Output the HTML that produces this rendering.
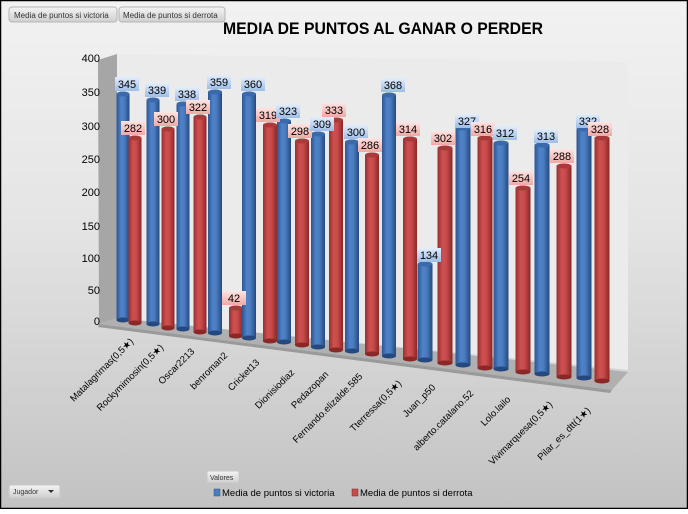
<!DOCTYPE html>
<html><head><meta charset="utf-8"><style>
html,body{margin:0;padding:0;}
body{width:688px;height:509px;overflow:hidden;}
svg text{font-family:"Liberation Sans",sans-serif;}
</style></head><body>
<svg width="688" height="509" viewBox="0 0 688 509" xmlns="http://www.w3.org/2000/svg">
<defs>
<linearGradient id="bg" x1="0" y1="0" x2="0" y2="1"><stop offset="0" stop-color="#f2f2f2"/><stop offset="0.45" stop-color="#e4e4e4"/><stop offset="1" stop-color="#c2c2c2"/></linearGradient>
<linearGradient id="gb" x1="0" y1="0" x2="1" y2="0"><stop offset="0" stop-color="#2c5590"/><stop offset="0.35" stop-color="#4f82c8"/><stop offset="0.6" stop-color="#4a7cc0"/><stop offset="1" stop-color="#25497e"/></linearGradient>
<linearGradient id="gr" x1="0" y1="0" x2="1" y2="0"><stop offset="0" stop-color="#983030"/><stop offset="0.35" stop-color="#d05050"/><stop offset="0.6" stop-color="#c84a4a"/><stop offset="1" stop-color="#8a2828"/></linearGradient>
<linearGradient id="lb" x1="0" y1="0" x2="0" y2="1"><stop offset="0" stop-color="#e4eefb"/><stop offset="1" stop-color="#9dbde8"/></linearGradient>
<linearGradient id="lr" x1="0" y1="0" x2="0" y2="1"><stop offset="0" stop-color="#fde4e2"/><stop offset="1" stop-color="#f0a9a5"/></linearGradient>
<linearGradient id="btn" x1="0" y1="0" x2="0" y2="1"><stop offset="0" stop-color="#f4f4f4"/><stop offset="1" stop-color="#cfcfcf"/></linearGradient>
</defs>
<rect x="0.5" y="0.5" width="687" height="508" fill="url(#bg)" stroke="#000" stroke-width="1.5"/>
<polygon points="117,54 628,62 628,370 117,318" fill="#ebebeb"/>
<polygon points="98,60 117,54 117,318 99,324" fill="#a6a6a6"/>
<polygon points="99,324 117,318 628,372 612,390" fill="#b0b0b0"/>
<polygon points="99,324 612,390 610,393 98,327" fill="#9a9a9a"/>
<rect x="9" y="7" width="108" height="15" rx="3" fill="url(#btn)" stroke="#b5b5b5"/>
<text x="14" y="18" font-size="8" fill="#333">Media de puntos si victoria</text>
<rect x="119" y="7" width="106" height="15" rx="3" fill="url(#btn)" stroke="#b5b5b5"/>
<text x="123" y="18" font-size="8" fill="#333">Media de puntos si derrota</text>
<text x="383" y="34" font-size="17" font-weight="bold" text-anchor="middle" textLength="320" lengthAdjust="spacingAndGlyphs" fill="#000">MEDIA DE PUNTOS AL GANAR O PERDER</text>
<g font-size="11" text-anchor="end" fill="#000">
<text x="100" y="62">400</text><text x="100" y="96">350</text><text x="100" y="130">300</text><text x="100" y="163">250</text><text x="100" y="196">200</text><text x="100" y="230">150</text><text x="100" y="262">100</text><text x="100" y="294">50</text><text x="100" y="325">0</text>
</g>
<g>
<rect x="116.5" y="94" width="13" height="226" fill="url(#gb)"/><ellipse cx="123" cy="320" rx="6.5" ry="2.5" fill="#25497e"/><ellipse cx="123" cy="94" rx="6.5" ry="2.5" fill="#3a6aab"/>
<rect x="128.5" y="138" width="13" height="185" fill="url(#gr)"/><ellipse cx="135" cy="323" rx="6.5" ry="2.5" fill="#8a2828"/><ellipse cx="135" cy="138" rx="6.5" ry="2.5" fill="#a83a3a"/>
<rect x="146.5" y="100" width="13" height="224" fill="url(#gb)"/><ellipse cx="153" cy="324" rx="6.5" ry="2.5" fill="#25497e"/><ellipse cx="153" cy="100" rx="6.5" ry="2.5" fill="#3a6aab"/>
<rect x="161.5" y="129" width="13" height="199" fill="url(#gr)"/><ellipse cx="168" cy="328" rx="6.5" ry="2.5" fill="#8a2828"/><ellipse cx="168" cy="129" rx="6.5" ry="2.5" fill="#a83a3a"/>
<rect x="176.5" y="104" width="13" height="225" fill="url(#gb)"/><ellipse cx="183" cy="329" rx="6.5" ry="2.5" fill="#25497e"/><ellipse cx="183" cy="104" rx="6.5" ry="2.5" fill="#3a6aab"/>
<rect x="193.5" y="117" width="13" height="215" fill="url(#gr)"/><ellipse cx="200" cy="332" rx="6.5" ry="2.5" fill="#8a2828"/><ellipse cx="200" cy="117" rx="6.5" ry="2.5" fill="#a83a3a"/>
<rect x="208" y="92" width="14" height="241" fill="url(#gb)"/><ellipse cx="215" cy="333" rx="7" ry="2.5" fill="#25497e"/><ellipse cx="215" cy="92" rx="7" ry="2.5" fill="#3a6aab"/>
<rect x="229" y="308" width="14" height="28" fill="url(#gr)"/><ellipse cx="236" cy="336" rx="7" ry="2.5" fill="#8a2828"/><ellipse cx="236" cy="308" rx="7" ry="2.5" fill="#a83a3a"/>
<rect x="242" y="94" width="14" height="244" fill="url(#gb)"/><ellipse cx="249" cy="338" rx="7" ry="2.5" fill="#25497e"/><ellipse cx="249" cy="94" rx="7" ry="2.5" fill="#3a6aab"/>
<rect x="263" y="125" width="14" height="216" fill="url(#gr)"/><ellipse cx="270" cy="341" rx="7" ry="2.5" fill="#8a2828"/><ellipse cx="270" cy="125" rx="7" ry="2.5" fill="#a83a3a"/>
<rect x="277" y="121" width="14" height="221" fill="url(#gb)"/><ellipse cx="284" cy="342" rx="7" ry="2.5" fill="#25497e"/><ellipse cx="284" cy="121" rx="7" ry="2.5" fill="#3a6aab"/>
<rect x="295" y="141" width="14" height="204" fill="url(#gr)"/><ellipse cx="302" cy="345" rx="7" ry="2.5" fill="#8a2828"/><ellipse cx="302" cy="141" rx="7" ry="2.5" fill="#a83a3a"/>
<rect x="311" y="134" width="14" height="213" fill="url(#gb)"/><ellipse cx="318" cy="347" rx="7" ry="2.5" fill="#25497e"/><ellipse cx="318" cy="134" rx="7" ry="2.5" fill="#3a6aab"/>
<rect x="329" y="120" width="14" height="230" fill="url(#gr)"/><ellipse cx="336" cy="350" rx="7" ry="2.5" fill="#8a2828"/><ellipse cx="336" cy="120" rx="7" ry="2.5" fill="#a83a3a"/>
<rect x="345" y="142" width="14" height="209" fill="url(#gb)"/><ellipse cx="352" cy="351" rx="7" ry="2.5" fill="#25497e"/><ellipse cx="352" cy="142" rx="7" ry="2.5" fill="#3a6aab"/>
<rect x="365" y="155" width="14" height="199" fill="url(#gr)"/><ellipse cx="372" cy="354" rx="7" ry="2.5" fill="#8a2828"/><ellipse cx="372" cy="155" rx="7" ry="2.5" fill="#a83a3a"/>
<rect x="382" y="95" width="14" height="261" fill="url(#gb)"/><ellipse cx="389" cy="356" rx="7" ry="2.5" fill="#25497e"/><ellipse cx="389" cy="95" rx="7" ry="2.5" fill="#3a6aab"/>
<rect x="403" y="139" width="14" height="220" fill="url(#gr)"/><ellipse cx="410" cy="359" rx="7" ry="2.5" fill="#8a2828"/><ellipse cx="410" cy="139" rx="7" ry="2.5" fill="#a83a3a"/>
<rect x="417.5" y="264" width="15" height="96" fill="url(#gb)"/><ellipse cx="425" cy="360" rx="7.5" ry="2.5" fill="#25497e"/><ellipse cx="425" cy="264" rx="7.5" ry="2.5" fill="#3a6aab"/>
<rect x="437.5" y="148" width="15" height="215" fill="url(#gr)"/><ellipse cx="445" cy="363" rx="7.5" ry="2.5" fill="#8a2828"/><ellipse cx="445" cy="148" rx="7.5" ry="2.5" fill="#a83a3a"/>
<rect x="455.5" y="128" width="15" height="237" fill="url(#gb)"/><ellipse cx="463" cy="365" rx="7.5" ry="2.5" fill="#25497e"/><ellipse cx="463" cy="128" rx="7.5" ry="2.5" fill="#3a6aab"/>
<rect x="477.5" y="138" width="15" height="230" fill="url(#gr)"/><ellipse cx="485" cy="368" rx="7.5" ry="2.5" fill="#8a2828"/><ellipse cx="485" cy="138" rx="7.5" ry="2.5" fill="#a83a3a"/>
<rect x="493.5" y="143" width="15" height="226" fill="url(#gb)"/><ellipse cx="501" cy="369" rx="7.5" ry="2.5" fill="#25497e"/><ellipse cx="501" cy="143" rx="7.5" ry="2.5" fill="#3a6aab"/>
<rect x="515.5" y="188" width="15" height="184" fill="url(#gr)"/><ellipse cx="523" cy="372" rx="7.5" ry="2.5" fill="#8a2828"/><ellipse cx="523" cy="188" rx="7.5" ry="2.5" fill="#a83a3a"/>
<rect x="534.5" y="145" width="15" height="229" fill="url(#gb)"/><ellipse cx="542" cy="374" rx="7.5" ry="2.5" fill="#25497e"/><ellipse cx="542" cy="145" rx="7.5" ry="2.5" fill="#3a6aab"/>
<rect x="556.5" y="166" width="15" height="211" fill="url(#gr)"/><ellipse cx="564" cy="377" rx="7.5" ry="2.5" fill="#8a2828"/><ellipse cx="564" cy="166" rx="7.5" ry="2.5" fill="#a83a3a"/>
<rect x="576.5" y="129" width="15" height="249" fill="url(#gb)"/><ellipse cx="584" cy="378" rx="7.5" ry="2.5" fill="#25497e"/><ellipse cx="584" cy="129" rx="7.5" ry="2.5" fill="#3a6aab"/>
<rect x="594.5" y="138" width="15" height="243" fill="url(#gr)"/><ellipse cx="602" cy="381" rx="7.5" ry="2.5" fill="#8a2828"/><ellipse cx="602" cy="138" rx="7.5" ry="2.5" fill="#a83a3a"/>
</g>
<g font-size="11" text-anchor="middle" fill="#000">
<rect x="115" y="77" width="24" height="14" fill="url(#lb)"/><text x="127" y="88">345</text>
<rect x="121" y="121" width="24" height="14" fill="url(#lr)"/><text x="133" y="132">282</text>
<rect x="145" y="83" width="24" height="14" fill="url(#lb)"/><text x="157" y="94">339</text>
<rect x="154" y="112" width="24" height="14" fill="url(#lr)"/><text x="166" y="123">300</text>
<rect x="175" y="87" width="24" height="14" fill="url(#lb)"/><text x="187" y="98">338</text>
<rect x="186" y="100" width="24" height="14" fill="url(#lr)"/><text x="198" y="111">322</text>
<rect x="207" y="75" width="24" height="14" fill="url(#lb)"/><text x="219" y="86">359</text>
<rect x="222" y="291" width="24" height="14" fill="url(#lr)"/><text x="234" y="302">42</text>
<rect x="241" y="77" width="24" height="14" fill="url(#lb)"/><text x="253" y="88">360</text>
<rect x="256" y="108" width="24" height="14" fill="url(#lr)"/><text x="268" y="119">319</text>
<rect x="276" y="104" width="24" height="14" fill="url(#lb)"/><text x="288" y="115">323</text>
<rect x="288" y="124" width="24" height="14" fill="url(#lr)"/><text x="300" y="135">298</text>
<rect x="310" y="117" width="24" height="14" fill="url(#lb)"/><text x="322" y="128">309</text>
<rect x="322" y="103" width="24" height="14" fill="url(#lr)"/><text x="334" y="114">333</text>
<rect x="344" y="125" width="24" height="14" fill="url(#lb)"/><text x="356" y="136">300</text>
<rect x="358" y="138" width="24" height="14" fill="url(#lr)"/><text x="370" y="149">286</text>
<rect x="381" y="78" width="24" height="14" fill="url(#lb)"/><text x="393" y="89">368</text>
<rect x="396" y="122" width="24" height="14" fill="url(#lr)"/><text x="408" y="133">314</text>
<rect x="417" y="248" width="24" height="14" fill="url(#lb)"/><text x="429" y="259">134</text>
<rect x="431" y="131" width="24" height="14" fill="url(#lr)"/><text x="443" y="142">302</text>
<rect x="455" y="114" width="24" height="14" fill="url(#lb)"/><text x="467" y="125">327</text>
<rect x="471" y="122" width="24" height="14" fill="url(#lr)"/><text x="483" y="133">316</text>
<rect x="493" y="126" width="24" height="14" fill="url(#lb)"/><text x="505" y="137">312</text>
<rect x="509" y="171" width="24" height="14" fill="url(#lr)"/><text x="521" y="182">254</text>
<rect x="534" y="129" width="24" height="14" fill="url(#lb)"/><text x="546" y="140">313</text>
<rect x="550" y="149" width="24" height="14" fill="url(#lr)"/><text x="562" y="160">288</text>
<rect x="576" y="114" width="24" height="14" fill="url(#lb)"/><text x="588" y="125">332</text>
<rect x="588" y="122" width="24" height="14" fill="url(#lr)"/><text x="600" y="133">328</text>
</g>
<g font-size="9.5" text-anchor="end" fill="#000">
<text transform="translate(134,342) rotate(-45)">Matalagrimas(0,5★)</text>
<text transform="translate(164,348) rotate(-45)">Rockymimosin(0,5★)</text>
<text transform="translate(195,352) rotate(-45)">Oscar2213</text>
<text transform="translate(228,356) rotate(-45)">benroman2</text>
<text transform="translate(260,363) rotate(-45)">Cricket13</text>
<text transform="translate(295,373) rotate(-45)">Dionisiodiaz</text>
<text transform="translate(329,375) rotate(-45)">Pedazopan</text>
<text transform="translate(363,377) rotate(-45)">Fernando.elizalde.585</text>
<text transform="translate(402,384) rotate(-45)">Tterressa(0,5★)</text>
<text transform="translate(436,388) rotate(-45)">Juan_p50</text>
<text transform="translate(474,394) rotate(-45)">alberto.catalano.52</text>
<text transform="translate(511,400) rotate(-45)">Lolo.lailo</text>
<text transform="translate(553,405) rotate(-45)">Vivimarquesa(0,5★)</text>
<text transform="translate(591,411) rotate(-45)">Pilar_es_dtt(1★)</text>
</g>
<rect x="207" y="471" width="32" height="12" rx="2" fill="url(#btn)" stroke="#c8c8c8"/>
<text x="210" y="480" font-size="7" fill="#333">Valores</text>
<rect x="9" y="485" width="51" height="13" rx="2" fill="url(#btn)" stroke="#c8c8c8"/>
<text x="13" y="494" font-size="7" fill="#333">Jugador</text>
<polygon points="48,490 54,490 51,493" fill="#333"/>
<rect x="214" y="489" width="6" height="7" fill="#4a7cc0" stroke="#2c5590" stroke-width="0.5"/>
<text x="222" y="496" font-size="9.5" fill="#000">Media de puntos si victoria</text>
<rect x="352" y="489" width="6" height="7" fill="#c84a4a" stroke="#8a2828" stroke-width="0.5"/>
<text x="360" y="496" font-size="9.5" fill="#000">Media de puntos si derrota</text>
</svg>
</body></html>
